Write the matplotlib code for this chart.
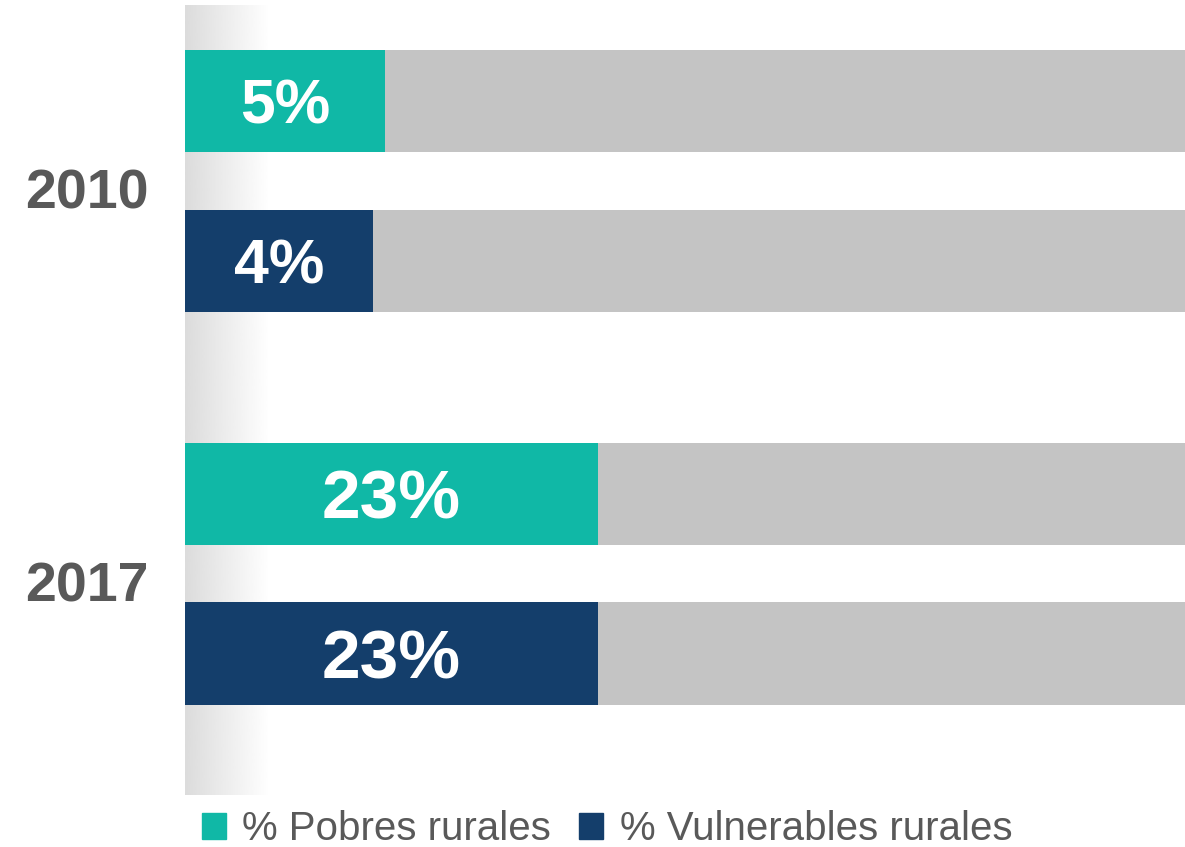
import matplotlib.pyplot as plt
import numpy as np
from matplotlib.patches import Patch

plt.rcParams['font.family'] = ['Liberation Sans', 'DejaVu Sans']

years = ['2010', '2017']
pobres = [5, 23]
vulnerables = [4, 23]
series_labels = ['% Pobres rurales', '% Vulnerables rurales']
total = 100

teal = '#10B8A6'
navy = '#143E6B'
grey = '#C4C4C4'
text_grey = '#595959'

base = 11.9          # bars start a little left of zero in the original
group_gap = 2.456    # distance between year groups
bar_h = 0.64

fig = plt.figure(figsize=(11.85, 8.47), dpi=100)
ax = fig.add_axes([185 / 1185, 1 - 795 / 847, 1000 / 1185, 790 / 847])

g = np.arange(len(years)) * group_gap
y_p = g
y_v = g + 1

# grey background bars
ax.barh(np.concatenate([y_p, y_v]), total + base, left=-base, height=bar_h,
        color=grey, zorder=2)
ax.barh(y_p, np.array(pobres) + base, left=-base, height=bar_h, color=teal, zorder=3)
ax.barh(y_v, np.array(vulnerables) + base, left=-base, height=bar_h, color=navy, zorder=3)

for ys, vals in [(y_p, pobres), (y_v, vulnerables)]:
    for y, v in zip(ys, vals):
        size = 50 if v >= 10 else 45
        # baseline placed so the digits sit centred in the bar
        ax.annotate(f'{v}%', ((v - base) / 2, y), xytext=(0, -0.36 * size),
                    textcoords='offset points', ha='center', va='baseline',
                    color='white', fontsize=size, fontweight='bold', zorder=4)

# soft shadow along the left edge
grad = np.linspace(0.86, 1.0, 256).reshape(1, -1)
ax.imshow(grad, cmap='gray', vmin=0, vmax=1, aspect='auto',
          extent=(0, 0.085, 0, 1), transform=ax.transAxes, zorder=1)

ax.set_xlim(-base, 72.6)
ax.set_ylim(4.34, -0.6)
ax.set_yticks(g + 0.55)
ax.set_yticklabels(years, fontsize=40, fontweight='bold', color=text_grey)
ax.tick_params(axis='y', length=0, pad=26)
ax.set_xticks([])
for s in ax.spines.values():
    s.set_visible(False)

handles = [Patch(color=teal), Patch(color=navy)]
fig.legend(handles, series_labels, loc='center', bbox_to_anchor=(607 / 1185, 1 - 829 / 847),
           ncol=2, frameon=False, fontsize=29, labelcolor=text_grey,
           handlelength=0.6, handleheight=0.6, handletextpad=0.4, columnspacing=0.7,
           borderpad=0, borderaxespad=0)

fig.savefig('out.png', dpi=100)
